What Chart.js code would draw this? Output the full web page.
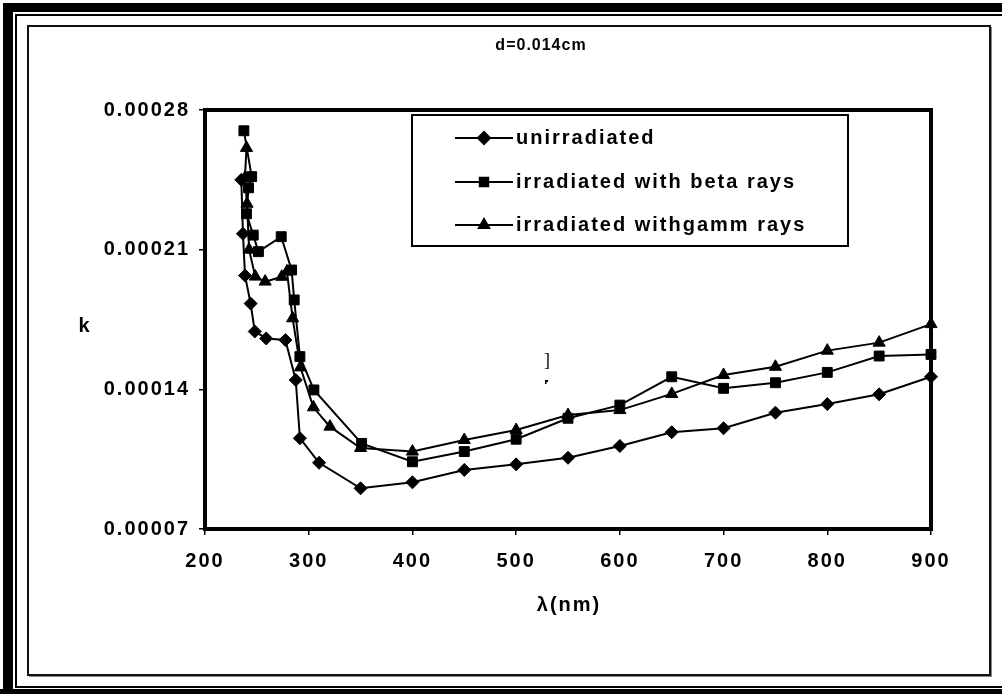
<!DOCTYPE html>
<html>
<head>
<meta charset="utf-8">
<title>k vs wavelength</title>
<script src="https://cdn.jsdelivr.net/npm/chart.js@4.4.0/dist/chart.umd.min.js"></script>
<style>
  html, body { margin: 0; padding: 0; background: #fff; }
  #wrap { width: 1002px; height: 694px; }
</style>
</head>
<body>
<div id="wrap"><canvas id="kChart" width="1002" height="694"></canvas></div>
<script>
// extinction coefficient k against wavelength, film thickness 0.014 cm
const seriesNames = ["unirradiated", "irradiated with beta rays", "irradiated withgamm rays"];

const unirrWl = [235, 236.6, 238.6, 244, 248, 259, 277.5, 287.5, 291.5, 310, 350, 400, 450, 500, 550, 600, 650, 700, 750, 800, 850, 900];
const unirrK = [0.000245, 0.000218, 0.000197, 0.000183, 0.000169, 0.0001655, 0.0001647, 0.0001447, 0.0001155, 0.0001032, 0.0000904,
  0.0000934, 0.0000996, 0.0001024, 0.0001057, 0.0001116, 0.0001185, 0.0001205, 0.0001283, 0.0001326, 0.0001375, 0.0001463];

const betaWl = [237.5, 245, 242, 240, 246.5, 251.5, 273.5, 283.5, 286, 291.5, 305, 351, 400, 450, 500, 550, 600, 650, 700, 750, 800, 850, 900];
const betaK = [0.0002696, 0.0002466, 0.000241, 0.000228, 0.0002173, 0.000209, 0.0002165, 0.0001998, 0.0001848, 0.0001564, 0.0001397, 0.0001129,
  0.0001037, 0.0001088, 0.000115, 0.0001255, 0.0001321, 0.0001463, 0.0001405, 0.0001433, 0.0001485, 0.0001567, 0.0001575];

const gammaWl = [240, 238.5, 240.5, 242.5, 248.5, 258, 274, 279, 284.5, 292, 304.5, 320.5, 350, 400, 450, 500, 550, 600, 650, 700, 750, 800, 850, 900];
const gammaK = [0.000261, 0.000246, 0.000233, 0.00021, 0.0001965, 0.000194, 0.0001964, 0.000199, 0.0001756, 0.000151, 0.000131, 0.0001213,
  0.0001106, 0.0001088, 0.0001146, 0.0001196, 0.0001271, 0.0001296, 0.0001377, 0.0001472, 0.0001513, 0.0001594, 0.0001634, 0.0001727];

const xTicks = [200, 300, 400, 500, 600, 700, 800, 900];
const yTicks = [0.00007, 0.00014, 0.00021, 0.00028];

const FONT = "'Liberation Sans', Arial, sans-serif";

function toPoints(xs, ys) {
  return xs.map((x, i) => ({ x: x, y: ys[i] }));
}

function series(label, xs, ys, style, radius) {
  return {
    label: label,
    data: toPoints(xs, ys),
    showLine: true,
    tension: 0,
    borderColor: "#000",
    borderWidth: 2,
    pointStyle: style,
    pointRadius: radius,
    pointBackgroundColor: "#000",
    pointBorderColor: "#000",
    pointBorderWidth: 1,
    clip: false
  };
}

// page frame, plot box, legend and free text
const decor = {
  id: "decor",
  beforeDraw(chart) {
    const ctx = chart.ctx;
    ctx.save();
    ctx.fillStyle = "#fff";
    ctx.fillRect(0, 0, chart.width, chart.height);
    ctx.fillStyle = "#000";
    // double frame: thick band + thin line
    ctx.fillRect(3, 3, 10, 691);
    ctx.fillRect(3, 3, 999, 9);
    ctx.fillRect(15, 14, 2, 674);
    ctx.fillRect(15, 14, 987, 2);
    ctx.fillRect(15, 686, 987, 2);
    ctx.fillRect(0, 689, 1002, 5);
    // inner chart box with soft shadow
    ctx.fillStyle = "#888";
    ctx.fillRect(29, 675, 963, 2);
    ctx.fillRect(990, 27, 2, 650);
    ctx.strokeStyle = "#111";
    ctx.lineWidth = 2;
    ctx.strokeRect(28, 26, 962, 649);
    ctx.restore();
    ctx.letterSpacing = "2px";
  },
  beforeDatasetsDraw(chart) {
    const { ctx, chartArea: a } = chart;
    ctx.save();
    ctx.strokeStyle = "#000";
    ctx.lineWidth = 4;
    ctx.strokeRect(a.left, a.top, a.right - a.left, a.bottom - a.top);
    ctx.restore();
  },
  afterDraw(chart) {
    const ctx = chart.ctx;
    ctx.save();
    ctx.fillStyle = "#000";
    ctx.textBaseline = "middle";
    ctx.textAlign = "center";

    ctx.letterSpacing = "1px";
    ctx.font = "bold 16px " + FONT;
    ctx.fillText("d=0.014cm", 541, 46);

    ctx.letterSpacing = "2px";
    ctx.font = "bold 20px " + FONT;
    ctx.fillText("k", 85, 326);
    ctx.fillText("\u03bb(nm)", 569, 605);

    // stray marks inside the plot
    ctx.letterSpacing = "0px";
    ctx.font = "18px 'Liberation Serif', serif";
    ctx.fillText("]", 547, 361);
    ctx.fillRect(545, 380, 3, 2);
    ctx.fillRect(545, 380, 1.5, 4);

    // legend
    const box = { x: 412, y: 115, w: 436, h: 131 };
    ctx.fillStyle = "#fff";
    ctx.fillRect(box.x, box.y, box.w, box.h);
    ctx.strokeStyle = "#000";
    ctx.lineWidth = 2;
    ctx.strokeRect(box.x, box.y, box.w, box.h);
    const rows = [138, 182, 225];
    chart.data.datasets.forEach((ds, i) => {
      const y = rows[i];
      ctx.strokeStyle = "#000";
      ctx.lineWidth = 2;
      ctx.beginPath();
      ctx.moveTo(455, y);
      ctx.lineTo(513, y);
      ctx.stroke();
      Chart.helpers.drawPoint(ctx, {
        pointStyle: ds.pointStyle,
        radius: ds.pointStyle === "rect" ? 6 : 6,
        borderWidth: 1
      }, 484, y);
      ctx.fillStyle = "#000";
      ctx.fill();
      ctx.textAlign = "left";
      ctx.letterSpacing = "2px";
      ctx.font = "bold 20px " + FONT;
      ctx.fillText(ds.label, 516, y);
    });
    ctx.restore();
  }
};

const tickFont = { family: FONT, size: 20, weight: "bold" };

new Chart(document.getElementById("kChart").getContext("2d"), {
  type: "scatter",
  data: {
    datasets: [
      series(seriesNames[0], unirrWl, unirrK, "rectRot", 6.5),
      series(seriesNames[1], betaWl, betaK, "rect", 7),
      series(seriesNames[2], gammaWl, gammaK, "triangle", 7)
    ]
  },
  options: {
    responsive: false,
    animation: false,
    devicePixelRatio: 1,
    layout: { padding: { top: 110, right: 71, left: 0, bottom: 0 } },
    plugins: {
      legend: { display: false },
      title: { display: false },
      tooltip: { enabled: false }
    },
    scales: {
      x: {
        type: "linear",
        min: 200,
        max: 900,
        afterBuildTicks: (s) => { s.ticks = xTicks.map((v) => ({ value: v })); },
        afterFit: (s) => { s.height = 165; },
        ticks: { font: tickFont, color: "#000", padding: 14, maxRotation: 0, autoSkip: false },
        grid: { drawOnChartArea: false, drawTicks: true, tickLength: 6, color: "#000", lineWidth: 1.5 },
        border: { display: true, width: 4, color: "#000" }
      },
      y: {
        type: "linear",
        min: 0.00007,
        max: 0.00028,
        afterBuildTicks: (s) => { s.ticks = yTicks.map((v) => ({ value: v })); },
        afterFit: (s) => { s.width = 205; },
        ticks: {
          font: tickFont,
          color: "#000",
          padding: 9,
          autoSkip: false,
          callback: (v) => Number(v).toFixed(5)
        },
        grid: { drawOnChartArea: false, drawTicks: true, tickLength: 6, color: "#000", lineWidth: 1.5 },
        border: { display: true, width: 4, color: "#000" }
      }
    }
  },
  plugins: [decor]
});
</script>
</body>
</html>
